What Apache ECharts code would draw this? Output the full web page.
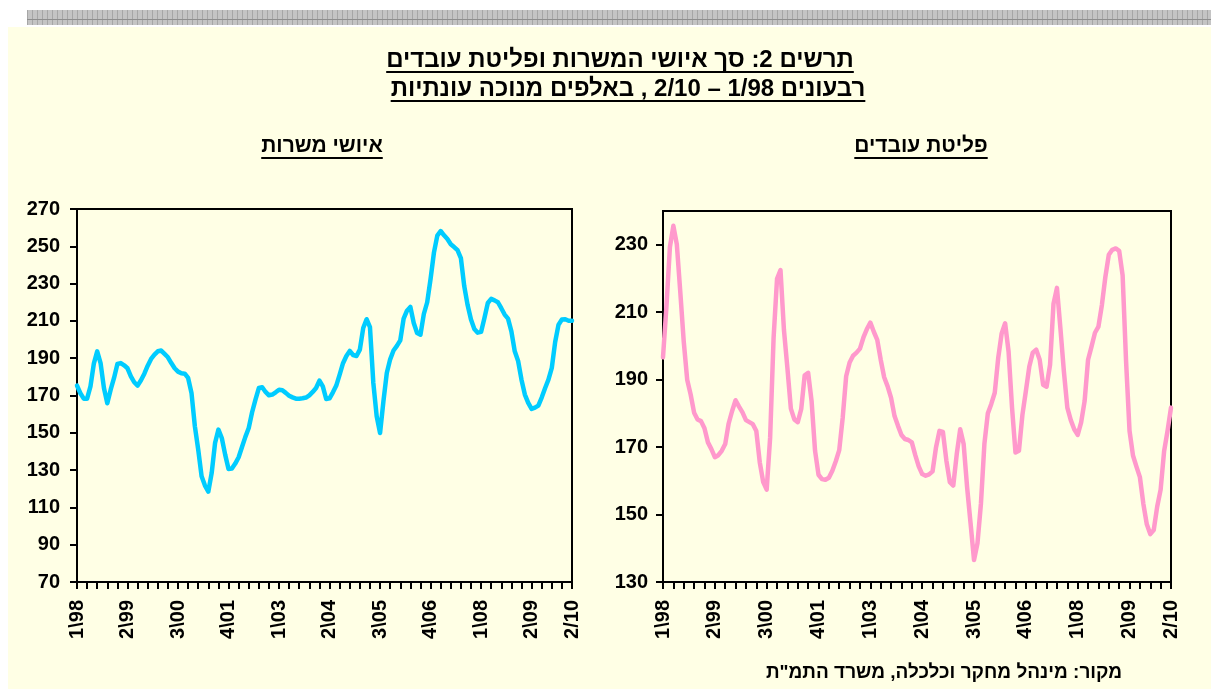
<!DOCTYPE html>
<html><head><meta charset="utf-8">
<script src="https://cdn.jsdelivr.net/npm/echarts/dist/echarts.min.js"></script>
<style>
html,body{margin:0;padding:0;background:#fff;width:1211px;height:689px;overflow:hidden}
#bg{position:absolute;left:8px;top:27px;width:1203px;height:662px;background:#FFFFE5}
#stripe{position:absolute;left:27px;top:10px;width:1184px;height:15px;background-color:#C4C4C4;
 background-image:linear-gradient(180deg, transparent 0 9px, #8E8E8E 9px 10px, transparent 10px 15px), repeating-linear-gradient(90deg, rgba(130,130,130,0.45) 0 1px, transparent 1px 5px);}
#chart{position:absolute;left:0;top:0;width:1211px;height:689px}
</style></head>
<body>
<div id="bg"></div><div id="stripe"></div>
<div id="chart"></div>
<script>
const FONT = '"Liberation Sans", Arial, sans-serif';

// monthly categories 1/1998 .. 4/2010
const months = Array.from({length:148}, (_, i) => (1998 + Math.floor(i / 12)) + '-' + String(i % 12 + 1).padStart(2, '0'));

const tickLabelIndex = [0, 15, 30, 45, 60, 75, 90, 105, 120, 135, 147];
const tickLabels = ['1\\98', '2\\99', '3\\00', '4\\01', '1\\03', '2\\04', '3\\05', '4\\06', '1\\08', '2\\09', '2/10'];

// איושי משרות
const vacancies = [
175.3,171.2,168.3,168.3,174.9,187.1,193.7,187.4,174.0,165.8,
173.1,179.4,186.9,187.4,186.2,184.6,180.3,177.1,175.3,178.2,
181.7,186.0,189.6,191.9,193.7,194.1,192.3,190.5,187.4,184.6,
182.8,181.9,181.7,179.4,171.4,153.5,141.0,126.7,121.7,118.5,
128.5,144.5,151.7,147.2,138.3,130.6,130.8,133.5,136.9,142.4,
147.8,152.6,161.0,167.8,174.0,174.4,171.9,170.1,170.5,171.7,
173.1,172.8,171.4,169.9,169.0,168.3,168.3,168.5,168.9,170.1,
171.9,174.0,178.0,174.9,168.1,168.5,171.7,175.3,181.2,187.3,
191.2,193.9,191.7,191.2,194.6,206.2,210.9,206.7,176.7,158.8,
149.9,166.9,182.1,189.4,194.1,196.6,199.6,211.2,215.5,217.5,
208.9,203.5,202.6,213.7,220.0,232.5,246.6,255.7,258.2,255.9,
253.9,251.1,249.6,247.9,243.7,228.6,218.5,210.7,205.7,203.7,
204.1,211.6,219.6,221.8,221.0,220.0,216.8,213.4,211.2,204.4,
193.7,188.5,178.5,170.5,166.0,162.8,163.5,164.6,168.9,173.9,
178.5,184.8,198.7,208.0,210.7,210.9,210.1,210.1
];

// פליטת עובדים
const separations = [
196.6,211.7,229.3,235.6,230.1,216.0,201.3,190.0,185.6,180.2,
178.2,177.7,175.6,171.4,169.4,167.0,167.6,168.9,170.9,177.0,
180.7,183.9,182.0,180.3,178.0,177.4,176.8,174.8,165.5,159.6,
157.4,172.8,202.3,219.9,222.5,204.7,193.4,181.4,178.2,177.4,
181.3,191.3,192.0,183.6,168.9,161.8,160.5,160.3,160.9,163.0,
165.8,169.1,178.7,191.0,195.1,197.1,198.0,199.2,202.5,205.0,
206.9,204.2,201.8,195.9,190.7,188.0,184.6,179.2,176.3,173.6,
172.4,172.1,171.4,167.6,164.3,162.0,161.5,161.9,162.8,169.9,
174.8,174.5,166.0,159.6,158.6,167.9,175.3,170.9,158.1,147.4,
136.5,141.5,153.2,170.9,180.0,182.8,186.1,196.4,203.7,206.7,
198.3,181.7,168.4,168.9,179.5,186.6,193.9,198.0,198.9,195.9,
188.5,187.9,194.4,212.5,217.2,205.2,192.5,181.7,178.0,175.3,
173.6,177.3,183.6,195.9,199.8,203.9,205.7,212.1,220.4,227.0,
228.5,228.9,228.2,220.9,195.4,174.8,167.5,164.2,161.1,153.2,
147.1,144.2,145.4,152.3,157.4,168.7,174.8,181.7
];

const title1 = 'תרשים 2: סך איושי המשרות ופליטת עובדים';
const title2 = 'רבעונים 1/98 – 2/10 , באלפים מנוכה עונתיות';
const subLeft = 'איושי משרות';
const subRight = 'פליטת עובדים';
const source = 'מקור: מינהל מחקר וכלכלה, משרד התמ"ת';

const rtl = s => '\u202B' + s + '\u202C';
const mctx = document.createElement('canvas').getContext('2d');
function textW(s, size) { mctx.font = 'bold ' + size + 'px ' + FONT; return mctx.measureText(rtl(s)).width; }

function textEl(s, cx, cy, size) {
  return { type: 'text', x: cx, y: cy, style: { text: rtl(s), font: 'bold ' + size + 'px ' + FONT, fill: '#000',
    align: 'center', verticalAlign: 'middle', textAlign: 'center', textVerticalAlign: 'middle' } };
}
function underline(s, cx, y, size) {
  const w = textW(s, size);
  return { type: 'line', shape: { x1: cx - w / 2, y1: y, x2: cx + w / 2, y2: y }, style: { stroke: '#000', lineWidth: 2 } };
}

const axisText = { color: '#000', fontWeight: 'bold', fontSize: 20, fontFamily: FONT };

function xAxis(g) {
  return {
    type: 'category', gridIndex: g, data: months, boundaryGap: false,
    axisLine: { show: true, lineStyle: { color: '#000', width: 2 } },
    axisTick: { show: true, interval: (i) => i % 3 === 0, length: 7, lineStyle: { color: '#000', width: 2 } },
    axisLabel: Object.assign({}, axisText, {
      interval: (i) => tickLabelIndex.indexOf(i) >= 0,
      formatter: (v, i) => { const k = tickLabelIndex.indexOf(i); return k >= 0 ? tickLabels[k] : ''; },
      rotate: 90, margin: 18
    }),
    splitLine: { show: false }
  };
}
function yAxis(g, min, max, margin) {
  return {
    type: 'value', gridIndex: g, min: min, max: max, interval: 20,
    axisLine: { show: true, lineStyle: { color: '#000', width: 2 } },
    axisTick: { show: true, length: 7, lineStyle: { color: '#000', width: 2 } },
    axisLabel: Object.assign({}, axisText, { margin: margin, showMaxLabel: max === 270 }),
    splitLine: { show: false }
  };
}

const chart = echarts.init(document.getElementById('chart'), null, { renderer: 'canvas' });
chart.setOption({
  animation: false,
  backgroundColor: 'transparent',
  grid: [
    { left: 77, top: 209, width: 495, height: 373, show: true, borderColor: '#000', borderWidth: 2, backgroundColor: 'transparent' },
    { left: 663, top: 211, width: 508, height: 371, show: true, borderColor: '#000', borderWidth: 2, backgroundColor: 'transparent' }
  ],
  xAxis: [xAxis(0), xAxis(1)],
  yAxis: [yAxis(0, 70, 270, 17), yAxis(1, 130, 240, 15)],
  series: [
    { name: subLeft, type: 'line', xAxisIndex: 0, yAxisIndex: 0, data: vacancies, symbol: 'none',
      lineStyle: { color: '#00CCFF', width: 4.5, join: 'round', cap: 'round' } },
    { name: subRight, type: 'line', xAxisIndex: 1, yAxisIndex: 1, data: separations, symbol: 'none',
      lineStyle: { color: '#FF99CC', width: 4.5, join: 'round', cap: 'round' } }
  ],
  graphic: [
    textEl(title1, 620, 60, 24), underline(title1, 620, 72, 24),
    textEl(title2, 628, 89, 24), underline(title2, 628, 101, 24),
    textEl(subLeft, 322, 146, 21), underline(subLeft, 322, 158, 21),
    textEl(subRight, 921, 146, 21), underline(subRight, 921, 158, 21),
    textEl(source, 944, 673, 19)
  ]
});
</script>
</body></html>
